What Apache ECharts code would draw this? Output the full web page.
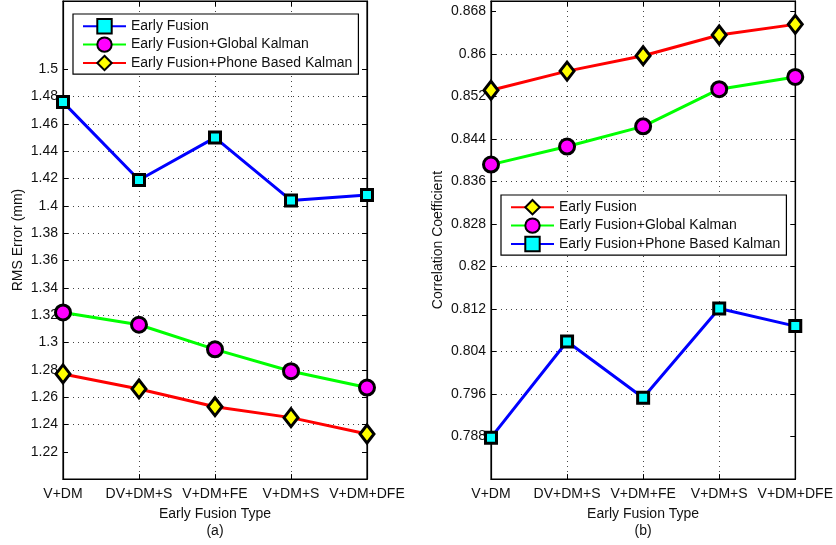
<!DOCTYPE html>
<html>
<head>
<meta charset="utf-8">
<script src="https://cdn.jsdelivr.net/npm/echarts@6/dist/echarts.min.js"></script>
<style>
  html, body { margin: 0; padding: 0; background: #fff; }
  #chart { width: 836px; height: 545px; }
</style>
</head>
<body>
<div id="chart"></div>
<script>
// Fusion variants on the x axis (shared by both panels)
const categories = ['V+DM', 'DV+DM+S', 'V+DM+FE', 'V+DM+S', 'V+DM+DFE'];

// Panel (a): RMS error in mm
const rmsEarly  = [1.476, 1.419, 1.450, 1.404, 1.408];
const rmsGlobal = [1.322, 1.313, 1.295, 1.279, 1.267];
const rmsPhone  = [1.277, 1.266, 1.253, 1.245, 1.233];
const rmsTicks  = [1.22, 1.24, 1.26, 1.28, 1.30, 1.32, 1.34, 1.36, 1.38, 1.40, 1.42, 1.44, 1.46, 1.48, 1.50];

// Panel (b): correlation coefficient
const corrEarly  = [0.8532, 0.8568, 0.8597, 0.8636, 0.8656];
const corrGlobal = [0.8392, 0.8426, 0.8464, 0.8534, 0.8557];
const corrPhone  = [0.7878, 0.8059, 0.7953, 0.8121, 0.8088];
const corrTicks  = [0.788, 0.796, 0.804, 0.812, 0.820, 0.828, 0.836, 0.844, 0.852, 0.860, 0.868];

const seriesNames = ['Early Fusion', 'Early Fusion+Global Kalman', 'Early Fusion+Phone Based Kalman'];

const FONT = '"Liberation Sans", Arial, sans-serif';
const gridDots = { color: '#444', width: 1, type: [1, 4] };

const styles = {
  blue:  { line: '#0000ff', fill: '#00ffff', symbol: 'rect',    size: 11 },
  green: { line: '#00ff00', fill: '#ff00ff', symbol: 'circle',  size: 15 },
  red:   { line: '#ff0000', fill: '#ffff00', symbol: 'diamond', size: [14, 18] }
};

function lineSeries(panel, name, values, st, axisIdx) {
  return {
    type: 'line',
    name: panel + '|' + name,
    data: values,
    xAxisIndex: axisIdx,
    yAxisIndex: axisIdx,
    symbol: st.symbol,
    symbolSize: st.size,
    showAllSymbol: true,
    lineStyle: { color: st.line, width: 3 },
    itemStyle: { color: st.fill, borderColor: '#000', borderWidth: 3 },
    emphasis: { disabled: true },
    animation: false
  };
}

function valueAxis(gridIndex, min, max, ticks, labelled, position) {
  return {
    type: 'value',
    gridIndex: gridIndex,
    position: position,
    min: min,
    max: max,
    axisLine: { show: true, lineStyle: { color: '#000', width: 1.2 } },
    axisTick: { show: true, inside: true, length: 5, customValues: ticks, lineStyle: { color: '#000' } },
    axisLabel: {
      show: labelled, customValues: ticks, color: '#111', fontSize: 14, fontFamily: FONT, margin: 5,
      formatter: v => String(+v.toFixed(4))
    },
    splitLine: { show: labelled, lineStyle: gridDots, showMinLine: false, showMaxLine: false }
  };
}

function catAxis(gridIndex, position, labelled, title) {
  return {
    type: 'category',
    gridIndex: gridIndex,
    position: position,
    data: categories,
    boundaryGap: false,
    axisLine: { show: true, lineStyle: { color: '#000', width: 1.2 } },
    axisTick: { show: true, inside: true, length: 5, alignWithLabel: true, lineStyle: { color: '#000' } },
    axisLabel: { show: labelled, interval: 0, color: '#111', fontSize: 14, fontFamily: FONT, margin: 8 },
    splitLine: { show: labelled, lineStyle: gridDots },
    name: title,
    nameLocation: 'middle',
    nameGap: 24,
    nameTextStyle: { color: '#111', fontSize: 14, fontFamily: FONT, lineHeight: 17, verticalAlign: 'top' }
  };
}

function legendBox(panel, left, top, names) {
  return {
    orient: 'vertical',
    left: left,
    top: top,
    data: names.map(n => panel + '|' + n),
    formatter: n => n.split('|')[1],
    backgroundColor: '#fff',
    borderColor: '#000',
    borderWidth: 1.2,
    borderRadius: 0,
    padding: [4, 6, 3, 9],
    itemWidth: 43,
    itemHeight: 18,
    itemGap: 2,
    selectedMode: false,
    textStyle: { color: '#111', fontSize: 14, fontFamily: FONT }
  };
}

const chart = echarts.init(document.getElementById('chart'), null, { renderer: 'canvas' });

chart.setOption({
  backgroundColor: '#fff',
  animation: false,
  grid: [
    { left: 63, right: 469, top: 1, bottom: 63, show: true, borderColor: '#000', borderWidth: 1.2 },
    { left: 491, right: 40, top: 1, bottom: 63, show: true, borderColor: '#000', borderWidth: 1.2 }
  ],
  xAxis: [
    catAxis(0, 'bottom', true, 'Early Fusion Type\n(a)'),
    catAxis(1, 'bottom', true, 'Early Fusion Type\n(b)'),
    catAxis(0, 'top', false, ''),
    catAxis(1, 'top', false, '')
  ],
  yAxis: [
    Object.assign(valueAxis(0, 1.2, 1.55, rmsTicks, true, 'left'), {
      name: 'RMS Error (mm)', nameLocation: 'middle', nameGap: 38, nameRotate: 90,
      nameTextStyle: { color: '#111', fontSize: 14, fontFamily: FONT }
    }),
    Object.assign(valueAxis(1, 0.78, 0.87, corrTicks, true, 'left'), {
      name: 'Correlation Coefficient', nameLocation: 'middle', nameGap: 46, nameRotate: 90,
      nameTextStyle: { color: '#111', fontSize: 14, fontFamily: FONT }
    }),
    valueAxis(0, 1.2, 1.55, rmsTicks, false, 'right'),
    valueAxis(1, 0.78, 0.87, corrTicks, false, 'right')
  ],
  legend: [
    legendBox('rms', 73, 14, seriesNames),
    legendBox('corr', 501, 195, seriesNames)
  ],
  series: [
    lineSeries('rms', seriesNames[0], rmsEarly, styles.blue, 0),
    lineSeries('rms', seriesNames[1], rmsGlobal, styles.green, 0),
    lineSeries('rms', seriesNames[2], rmsPhone, styles.red, 0),
    lineSeries('corr', seriesNames[0], corrEarly, styles.red, 1),
    lineSeries('corr', seriesNames[1], corrGlobal, styles.green, 1),
    lineSeries('corr', seriesNames[2], corrPhone, styles.blue, 1)
  ]
});
</script>
</body>
</html>
